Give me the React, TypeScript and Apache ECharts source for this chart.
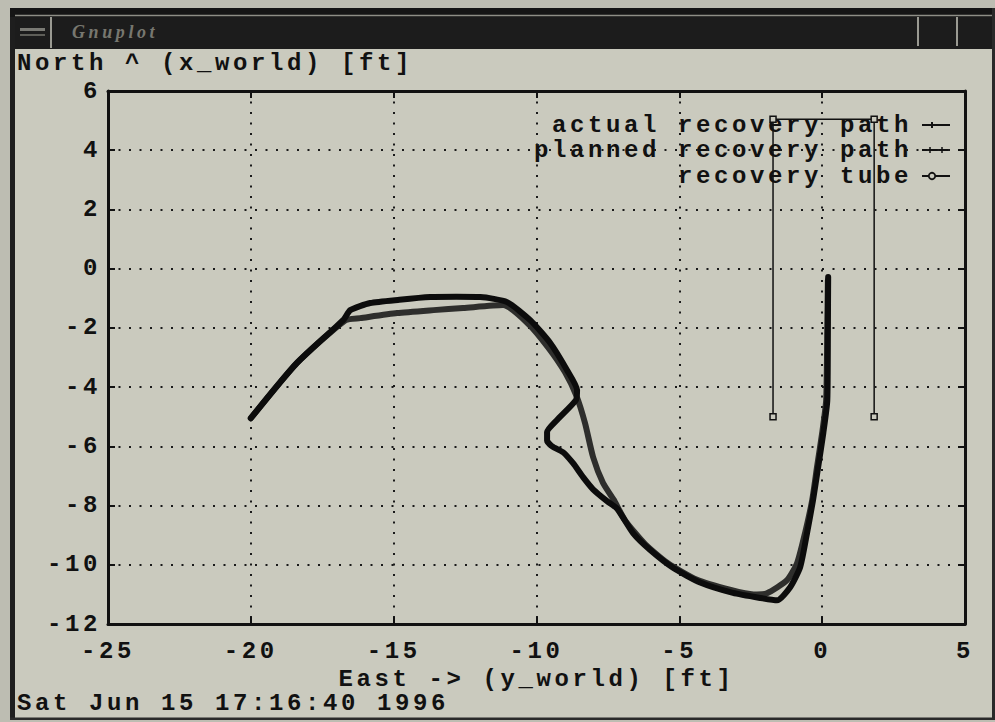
import React, { useEffect, useRef } from "react";
import * as echarts from "echarts";

// ---- axis ranges / ticks ----
const X_MIN = -25;
const X_MAX = 5;
const X_STEP = 5;
const Y_MIN = -12;
const Y_MAX = 6;
const Y_STEP = 2;

// ---- texts ----
const SERIES_NAMES = ["actual recovery path", "planned recovery path", "recovery tube"];
const Y_TITLE = "North ^ (x_world) [ft]";
const X_TITLE = "East -> (y_world) [ft]";
const DATE_TEXT = "Sat Jun 15 17:16:40 1996";
const WINDOW_TITLE = "Gnuplot";

// ---- data ----
const actualX = [
  -20.0, -18.4, -16.75, -16.52, -15.82, -14.8, -13.72, -12.8, -11.97, -11.03, -10.22, -9.52,
  -8.93, -8.58, -8.62, -9.28, -9.63, -9.63, -9.45, -9.07, -8.72, -8.37, -8.02, -7.53, -7.18,
  -6.62, -6.02, -5.22, -4.27, -3.12, -2.17, -1.58, -1.12, -0.77, -0.53, -0.32, -0.14, 0.04,
  0.18, 0.2, 0.21,
];
const actualY = [
  -5.05, -3.2, -1.72, -1.4, -1.16, -1.05, -0.96, -0.95, -0.96, -1.13, -1.74, -2.51,
  -3.43, -4.1, -4.44, -5.11, -5.52, -5.8, -6.0, -6.2, -6.57, -7.04, -7.45, -7.85, -8.1,
  -8.93, -9.5, -10.1, -10.6, -10.95, -11.12, -11.2, -10.76, -10.08, -8.93, -7.82, -6.7, -5.55,
  -4.44, -2.0, -0.28,
];
const plannedX = [
  -20.0, -18.4, -16.69, -16.17, -14.88, -13.6, -12.57, -11.17, -10.3, -9.6, -9.0, -8.6,
  -8.3, -8.02, -7.67, -7.3, -6.9, -6.2, -5.4, -4.4, -3.2, -2.4, -1.93, -1.23, -0.88, -0.6,
  -0.35, -0.18, 0.0, 0.14, 0.18, 0.2,
];
const plannedY = [
  -5.05, -3.2, -1.74, -1.67, -1.5, -1.4, -1.33, -1.23, -1.85, -2.65, -3.5, -4.3,
  -5.22, -6.36, -7.24, -7.8, -8.5, -9.3, -9.95, -10.5, -10.85, -11.0, -10.96, -10.52, -9.95, -8.93,
  -7.82, -6.7, -5.55, -4.44, -2.0, -0.4,
];
const tubeX = [-1.72, -1.72, 1.82, 1.82];
const tubeY = [-5.0, 5.05, 5.05, -5.0];

const zip = (xs: number[], ys: number[]) => xs.map((x, i) => [x, ys[i]]);

const BG = "#cacabe";
const OUTER = "#bdbdb2";
const INK = "#111111";
const FONT = "'Liberation Mono', 'DejaVu Sans Mono', monospace";
const FS = 24;

export default function App() {
  const ref = useRef<HTMLDivElement | null>(null);

  useEffect(() => {
    if (!ref.current) return;
    const chart = echarts.init(ref.current, undefined, { renderer: "svg" });

    const txt = { fontFamily: FONT, fontWeight: "bold" as const, fontSize: FS, color: INK };

    const commonAxis = {
      axisLine: { show: true, onZero: false, lineStyle: { color: INK, width: 3 } },
      axisTick: { show: true, inside: true, length: 7, lineStyle: { color: INK, width: 2 } },
    };

    const legendRows = [125, 150, 176];
    const legendGraphics: any[] = [];
    SERIES_NAMES.forEach((name, i) => {
      const y = legendRows[i];
      legendGraphics.push({
        type: "text",
        x: 912,
        y,
        style: {
          text: name,
          font: `bold ${FS}px ${FONT}`,
          fill: INK,
          textAlign: "right",
          textVerticalAlign: "middle",
        },
      });
      legendGraphics.push({
        type: "line",
        shape: { x1: 922, y1: y, x2: 950, y2: y },
        style: { stroke: INK, lineWidth: 2 },
      });
    });
    legendGraphics.push({
      type: "line",
      shape: { x1: 932, y1: legendRows[0] - 3, x2: 932, y2: legendRows[0] + 3 },
      style: { stroke: INK, lineWidth: 2 },
    });
    [930, 942].forEach((mx) =>
      legendGraphics.push({
        type: "line",
        shape: { x1: mx, y1: legendRows[1] - 3, x2: mx, y2: legendRows[1] + 3 },
        style: { stroke: INK, lineWidth: 1.5 },
      })
    );
    legendGraphics.push({
      type: "circle",
      shape: { cx: 932, cy: legendRows[2], r: 3.2 },
      style: { fill: BG, stroke: INK, lineWidth: 1.8 },
    });

    const chrome: any[] = [
      { type: "rect", shape: { x: 0, y: 0, width: 10, height: 722 }, style: { fill: OUTER } },
      { type: "rect", shape: { x: 0, y: 0, width: 995, height: 8 }, style: { fill: OUTER } },
      { type: "rect", shape: { x: 0, y: 720, width: 995, height: 2 }, style: { fill: OUTER } },
      { type: "rect", shape: { x: 10, y: 8, width: 5, height: 712 }, style: { fill: "#1e1e1e" } },
      { type: "rect", shape: { x: 10, y: 8, width: 985, height: 9 }, style: { fill: "#151515" } },
      { type: "line", shape: { x1: 15, y1: 15.5, x2: 993, y2: 15.5 }, style: { stroke: "#8e8e86", lineWidth: 1.5 } },
      { type: "rect", shape: { x: 15, y: 17, width: 978, height: 32 }, style: { fill: "#1c1c1c" } },
      { type: "rect", shape: { x: 992, y: 8, width: 3, height: 712 }, style: { fill: "#2a2a2a" } },
      { type: "rect", shape: { x: 10, y: 717.5, width: 985, height: 2.5 }, style: { fill: "#2a2a2a" } },
      { type: "line", shape: { x1: 51, y1: 17, x2: 51, y2: 48 }, style: { stroke: "#9a9a92", lineWidth: 2 } },
      { type: "line", shape: { x1: 918, y1: 17, x2: 918, y2: 46 }, style: { stroke: "#9a9a92", lineWidth: 2 } },
      { type: "line", shape: { x1: 957, y1: 17, x2: 957, y2: 46 }, style: { stroke: "#9a9a92", lineWidth: 2 } },
      { type: "rect", shape: { x: 20, y: 28, width: 25, height: 3 }, style: { fill: "#7a7a74" } },
      { type: "rect", shape: { x: 20, y: 34, width: 25, height: 2 }, style: { fill: "#5e5e58" } },
      {
        type: "text",
        x: 72,
        y: 32,
        style: {
          text: WINDOW_TITLE,
          font: "italic bold 18px 'Liberation Serif', serif",
          fill: "#77776f",
          textVerticalAlign: "middle",
        },
      },
      {
        type: "text",
        x: 17,
        y: 703,
        style: {
          text: DATE_TEXT,
          font: `bold ${FS}px ${FONT}`,
          fill: INK,
          textVerticalAlign: "middle",
        },
      },
    ];

    const option: any = {
      animation: false,
      backgroundColor: BG,
      title: {
        text: Y_TITLE,
        left: 17,
        top: 51,
        padding: 0,
        textStyle: { ...txt },
      },
      grid: { left: 108, top: 91, right: 30, bottom: 98, containLabel: false },
      xAxis: [
        {
          type: "value",
          position: "bottom",
          min: X_MIN,
          max: X_MAX,
          interval: X_STEP,
          name: X_TITLE,
          nameLocation: "middle",
          nameGap: 42,
          nameTextStyle: { ...txt },
          ...commonAxis,
          axisLabel: { ...txt, margin: 15 },
          splitLine: { show: true, lineStyle: { color: "#1a1a1a", width: 2, type: [2, 8.5] } },
        },
        {
          type: "value",
          position: "top",
          min: X_MIN,
          max: X_MAX,
          interval: X_STEP,
          ...commonAxis,
          axisLabel: { show: false },
          splitLine: { show: false },
        },
      ],
      yAxis: [
        {
          type: "value",
          position: "left",
          min: Y_MIN,
          max: Y_MAX,
          interval: Y_STEP,
          ...commonAxis,
          axisLabel: { ...txt, margin: 7 },
          splitLine: { show: true, lineStyle: { color: "#1a1a1a", width: 2, type: [2, 8.5] } },
        },
        {
          type: "value",
          position: "right",
          min: Y_MIN,
          max: Y_MAX,
          interval: Y_STEP,
          ...commonAxis,
          axisLabel: { show: false },
          splitLine: { show: false },
        },
      ],
      series: [
        {
          name: SERIES_NAMES[1],
          type: "line",
          data: zip(plannedX, plannedY),
          showSymbol: false,
          symbol: "none",
          smooth: 0.2,
          lineStyle: { color: "#2e2e2c", width: 6, cap: "round", join: "round" },
          z: 3,
        },
        {
          name: SERIES_NAMES[0],
          type: "line",
          data: zip(actualX, actualY),
          showSymbol: false,
          symbol: "none",
          smooth: 0.2,
          lineStyle: { color: "#0c0c0c", width: 6, cap: "round", join: "round" },
          z: 4,
        },
        {
          name: SERIES_NAMES[2],
          type: "line",
          data: zip(tubeX, tubeY),
          symbol: "rect",
          symbolSize: 6,
          showAllSymbol: true,
          itemStyle: { color: BG, borderColor: INK, borderWidth: 1.5 },
          lineStyle: { color: INK, width: 1.5 },
          z: 5,
        },
      ],
      graphic: [...chrome, ...legendGraphics],
    };

    chart.setOption(option);
    return () => chart.dispose();
  }, []);

  return (
    <>
      <style>{`#chart-box text { letter-spacing: 3.6px; }`}</style>
      <div
        id="chart-box"
        ref={ref}
        style={{ position: "fixed", left: 0, top: 0, width: 995, height: 722 }}
      />
    </>
  );
}
